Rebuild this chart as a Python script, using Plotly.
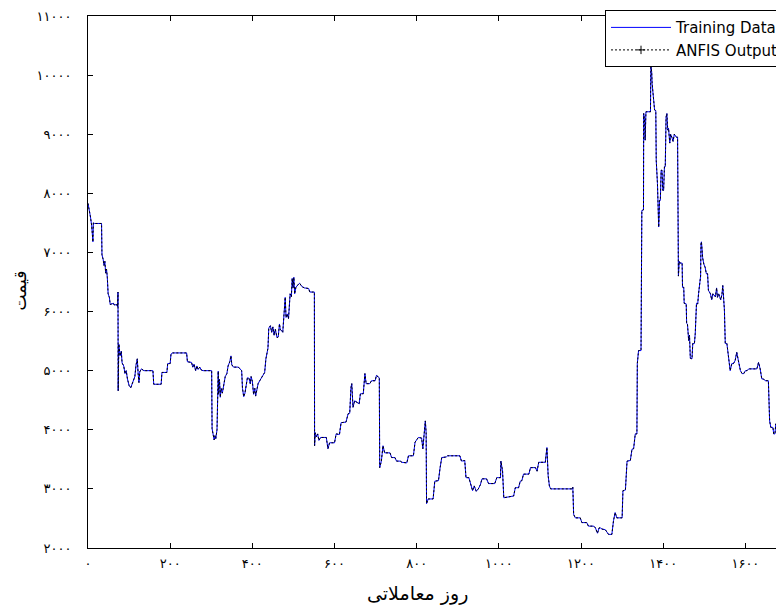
import plotly.graph_objects as go

# Trading day index and price
days = [0, 4, 6, 9, 12, 13, 16, 33, 34, 37, 39, 41, 43, 45, 47, 49, 52, 54, 62, 64, 70, 72, 73, 73.5,
        75, 78, 81, 83, 87, 90, 93, 96, 100, 104, 107, 111, 114, 117, 120, 122, 124, 126, 130, 136,
        158, 160, 178, 180, 192, 194, 200, 202, 206, 240, 242, 252, 255, 258, 262, 265, 268, 272,
        276, 280, 301, 302, 305, 307, 309, 311, 314, 317, 318, 320, 322, 324, 327, 330, 334, 338,
        341, 345, 348, 350, 354, 366, 370, 374, 376, 379, 382, 385, 388, 392, 395, 397, 400, 403,
        406, 408, 411, 414, 418, 424, 430, 433, 436, 438, 440, 444, 447, 450, 453, 456, 460, 463,
        466, 468, 474, 477, 480, 482, 485, 488, 492, 495, 497, 499, 501, 503, 506, 512, 515, 521,
        527, 537, 540, 549, 551, 551.5, 553, 556, 559, 562, 566, 580, 584, 588, 600, 604, 612, 616,
        628, 633, 637, 640, 642, 645, 649, 660, 663, 670, 674, 677, 686, 690, 699, 702, 709, 710,
        714, 718, 722, 735, 739, 747, 751, 760, 764, 776, 780, 792, 796, 804, 812, 815, 818, 821,
        823, 824, 828, 840, 844, 853, 857, 861, 872, 875, 905, 909, 917, 920, 927, 931, 936, 940,
        945, 950, 955, 959, 970, 975, 990, 995, 1004, 1005, 1009, 1012, 1036, 1040, 1048, 1052,
        1056, 1060, 1073, 1077, 1089, 1093, 1097, 1113, 1117, 1120, 1123, 1126, 1141, 1178, 1180,
        1182, 1186, 1198, 1202, 1214, 1218, 1231, 1235, 1240, 1244, 1247, 1251, 1259, 1267, 1275,
        1279, 1283, 1287, 1300, 1302, 1308, 1312, 1320, 1324, 1328, 1332, 1336, 1337, 1340, 1346,
        1347, 1348, 1352, 1352.5, 1355, 1356, 1358, 1369, 1370, 1372, 1373, 1375, 1377, 1379, 1382,
        1383, 1386, 1388, 1389, 1390, 1391, 1393, 1395, 1397, 1399, 1401, 1403, 1405, 1407, 1409,
        1411, 1413, 1416, 1418, 1421, 1424, 1427, 1432, 1435, 1436, 1437, 1439, 1441, 1446, 1447,
        1450, 1451, 1456, 1457, 1459, 1462, 1464, 1466, 1470, 1472, 1476, 1478, 1481, 1484, 1486,
        1489, 1491, 1492, 1493, 1494, 1496, 1499, 1502, 1505, 1508, 1510, 1515, 1518, 1521, 1527,
        1530, 1532, 1535, 1537, 1540, 1543, 1545, 1549, 1551, 1555, 1559, 1563, 1567, 1571, 1575,
        1579, 1583, 1588, 1592, 1596, 1600, 1604, 1608, 1628, 1632, 1636, 1640, 1644, 1648, 1656,
        1659, 1662, 1667, 1669, 1672, 1674, 1679, 1693, 1697]

training_price = [7830, 7700, 7600, 7450, 7180, 7500, 7490, 7490, 6960, 6880, 6780, 6850, 6650, 6720,
                  6580, 6300, 6240, 6120, 6140, 6110, 6120, 6080, 6330, 4660,
                  5450, 5250, 5330, 5130, 5080, 4950, 5000, 4860, 4750, 4710, 4760, 4850, 4900, 5100,
                  5200, 4950, 4800, 4980, 5030, 5000,
                  5000, 4770, 4770, 4970, 4970, 5120, 5120, 5280, 5300, 5300, 5150, 5140, 5060, 5110,
                  5000, 5080, 5020, 5060,
                  5010, 5000, 5000, 4020, 3880, 3830, 3900, 3850, 4000, 4990, 4600, 4850, 4550, 4700,
                  4620, 4750, 4900, 4950,
                  5080, 5150, 5250, 5100, 5060, 5060, 5030, 5000, 4700, 4560, 4620, 4780, 4880, 4870,
                  4780, 4900, 4820, 4600,
                  4700, 4570, 4650, 4780, 4830, 4900, 4970, 5200, 5350, 5380, 5720, 5760, 5650, 5740,
                  5600, 5700, 5560, 5570,
                  5790, 5700, 5650, 5880, 6240, 5900, 5960, 5880, 6300, 6250, 6560, 6400, 6580, 6300,
                  6410, 6460, 6480, 6420,
                  6400, 6390, 6330, 6330, 6330, 3730, 3950, 3880, 3930, 3820, 3870, 3870, 3680, 3780,
                  3780, 3930, 3920, 4120,
                  4130, 4270, 4280, 4710, 4780, 4380, 4490, 4440, 4610, 4610, 4950, 4780, 4780, 4830,
                  4830, 4920, 4880, 3360,
                  3470, 3730, 3610, 3610, 3530, 3530, 3470, 3470, 3450, 3440, 3560, 3560, 3790, 3870,
                  3860, 3680, 3900, 4150,
                  3950, 2750, 2830, 2830, 3130, 3140, 3360, 3530, 3540, 3560, 3560, 3470, 3480, 3190,
                  3190, 3080, 2970, 3050,
                  2960, 3000, 3070, 3170, 3170, 3090, 3090, 3190, 3190, 3470, 3300, 2850, 2880, 3020,
                  3020, 3130,
                  3140, 3250, 3250, 3360, 3360, 3300, 3450, 3450, 3700, 3220, 3050, 3000, 3000, 3000,
                  3030,
                  2570, 2510, 2510, 2430, 2430, 2370, 2370, 2340, 2250, 2340, 2340, 2320, 2310, 2230,
                  2230,
                  2460, 2600, 2510, 2510, 2970, 2980, 3470, 3480, 3670, 3680, 3930, 3930, 5120, 5340,
                  5340,
                  7600, 7710, 7720, 9350, 9200, 8900, 9380, 9380, 10170, 10050, 9860, 9700, 9460, 9410,
                  9400,
                  8560, 8170, 7700, 7430, 7600, 7880, 7880, 8390, 8390, 8050, 8050, 8450, 8450, 9290,
                  9350,
                  9070, 9100, 8850, 9000, 8950, 8880, 9000, 8950, 8950, 6980, 6600, 6850, 6820, 6820,
                  6410,
                  6410, 6140, 6130, 5800, 5790, 5510, 5600, 5210, 5200, 5460, 5460, 5630, 6140, 6130,
                  6300,
                  6580, 6600, 7150, 7180, 7100, 6910, 6800, 6750, 6640, 6640, 6360, 6300, 6200, 6300,
                  6250,
                  6400, 6240, 6300, 6260, 6200, 6290, 6440, 6020, 5460, 5460, 5170, 5000, 5120, 5120,
                  5170,
                  5310, 5170, 5000, 4950, 4950, 5000, 5000, 5030, 5030, 5140, 5030, 4860, 4860, 4830,
                  4830,
                  4150, 4040, 4040, 3930, 3930, 4100, 4020, 4020, 4050]

# ANFIS output follows the training data so closely that the curves coincide in the picture
anfis_price = list(training_price)

x_tick_values = [0, 200, 400, 600, 800, 1000, 1200, 1400, 1600]
x_tick_labels = ["۰", "۲۰۰", "۴۰۰", "۶۰۰", "۸۰۰", "۱۰۰۰", "۱۲۰۰", "۱۴۰۰", "۱۶۰۰"]
y_tick_values = [2000, 3000, 4000, 5000, 6000, 7000, 8000, 9000, 10000, 11000]
y_tick_labels = ["۲۰۰۰", "۳۰۰۰", "۴۰۰۰", "۵۰۰۰", "۶۰۰۰", "۷۰۰۰", "۸۰۰۰", "۹۰۰۰", "۱۰۰۰۰", "۱۱۰۰۰"]

fig = go.Figure()
fig.add_trace(go.Scatter(x=days, y=training_price, mode="lines", name="Training Data",
                         line=dict(color="#0000ff", width=1)))
fig.add_trace(go.Scatter(x=days, y=anfis_price, mode="lines", name="ANFIS Output", showlegend=False,
                         line=dict(color="black", width=1, dash="2px,2px")))
# legend sample for ANFIS output (dotted line with plus marker)
fig.add_trace(go.Scatter(x=[None], y=[None], mode="lines+markers", name="ANFIS Output",
                         line=dict(color="black", width=1, dash="2px,2px"),
                         marker=dict(symbol="cross-thin", size=6, color="black",
                                     line=dict(color="black", width=1))))

tick_font = dict(family="DejaVu Sans", size=13, color="black")
fig.update_layout(
    width=776, height=597,
    margin=dict(l=80, r=0, t=8, b=57),
    paper_bgcolor="white", plot_bgcolor="white",
    showlegend=True,
    legend=dict(x=1, y=1.011, xanchor="right", yanchor="top",
                bordercolor="black", borderwidth=1, bgcolor="white",
                font=dict(family="DejaVu Sans", size=15, color="black"),
                tracegroupgap=0, itemwidth=60),
    xaxis=dict(range=[0, 1694], tickvals=x_tick_values, ticktext=x_tick_labels,
               ticks="inside", ticklen=5, tickcolor="black", showline=True, linecolor="black",
               linewidth=1, mirror="ticks", showgrid=False, zeroline=False, tickfont=tick_font,
               ticklabelstandoff=3),
    yaxis=dict(range=[2000, 11000], tickvals=y_tick_values, ticktext=y_tick_labels,
               ticks="inside", ticklen=5, tickcolor="black", showline=True, linecolor="black",
               linewidth=1, mirror="ticks", showgrid=False, zeroline=False, tickfont=tick_font,
               ticklabelstandoff=13),
    annotations=[
        dict(text="روز معاملاتی", x=0.474, y=-0.0846, xref="paper", yref="paper",
             showarrow=False, xanchor="center", yanchor="middle",
             font=dict(family="DejaVu Sans", size=19, color="black")),
        dict(text="قیمت", x=-0.0977, y=0.484, xref="paper", yref="paper", textangle=-90,
             showarrow=False, xanchor="center", yanchor="middle",
             font=dict(family="DejaVu Sans", size=17, color="black")),
    ],
)

fig.write_html("out.html")
